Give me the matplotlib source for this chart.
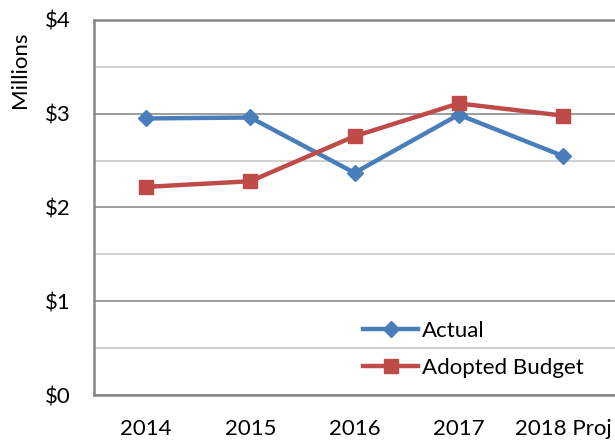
import matplotlib
matplotlib.use("Agg")
import matplotlib.pyplot as plt
from matplotlib.ticker import MultipleLocator, FuncFormatter

plt.rcParams['font.family'] = ['Lato', 'DejaVu Sans']

categories = ["2014", "2015", "2016", "2017", "2018 Proj"]
actual = [2.95, 2.96, 2.37, 2.99, 2.55]
adopted = [2.22, 2.28, 2.76, 3.11, 2.98]
y_ticks = [0, 1, 2, 3, 4]

fig = plt.figure(figsize=(6.15, 4.44), dpi=100)
ax = fig.add_axes([94/615, 1 - 395/444, (615-94)/615, (395-20)/444])

x = list(range(len(categories)))
ax.plot(x, actual, color='#4A7EBB', lw=3.2, marker='D', markersize=8.5,
        label='Actual', zorder=3)
ax.plot(x, adopted, color='#BE4B48', lw=3.2, marker='s', markersize=9.5,
        label='Adopted Budget', zorder=3)

ax.set_xlim(-0.5, len(categories) - 0.5)
ax.set_ylim(0, 4)
ax.set_xticks(x)
ax.set_xticklabels(categories)
ax.set_yticks(y_ticks)
ax.yaxis.set_major_formatter(FuncFormatter(lambda v, p: f"${int(v)}"))
ax.yaxis.set_minor_locator(MultipleLocator(0.5))

ax.grid(axis='y', which='major', color='#8C8C8C', lw=1.2, zorder=0)
ax.grid(axis='y', which='minor', color='#C8C8C8', lw=1.2, zorder=0)
ax.tick_params(axis='both', which='both', length=0, labelsize=16)
ax.tick_params(axis='x', pad=17)
ax.tick_params(axis='y', pad=17)

for s in ['left', 'bottom', 'top']:
    ax.spines[s].set_color('#868686')
    ax.spines[s].set_linewidth(1.8)
ax.spines['right'].set_visible(False)

fig.text(20/615, 1 - 70/444, 'Millions', rotation=90, fontsize=16,
         ha='center', va='center')

leg = ax.legend(loc='upper left', bbox_to_anchor=((354-94)/(615-94), (395-312)/375),
                frameon=False, fontsize=16, handlelength=2.5,
                labelspacing=0.75, handletextpad=0.15, borderaxespad=0)

fig.savefig('out.png', dpi=100)
